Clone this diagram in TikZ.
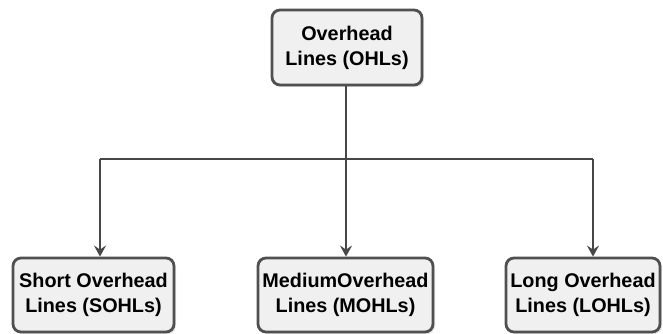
\documentclass[tikz,border=0pt]{standalone}
\usepackage{fontspec}
\setmainfont{Liberation Sans}
\usetikzlibrary{arrows.meta,shadows}
\definecolor{boxfill}{HTML}{F0F0F0}
\definecolor{boxline}{HTML}{505050}
\definecolor{linecol}{HTML}{474747}
\tikzset{
  catbox/.style={draw=boxline, line width=2.8pt, fill=boxfill, rounded corners=8pt,
    align=center, inner sep=0pt, font=\fontsize{19.8}{24.8}\selectfont\bfseries,
    drop shadow={opacity=0.2, shadow xshift=2pt, shadow yshift=-2pt}},
  conn/.style={draw=linecol, line width=2.8pt},
  arr/.style={conn, -{Stealth[length=11pt, width=12pt, inset=4pt]}}
}
\begin{document}
\begin{tikzpicture}[x=1pt, y=-1pt]
\useasboundingbox (0,0) rectangle (663,334);
\node[catbox, minimum width=150pt, minimum height=75pt] (top) at (347,47.5) {Overhead\\Lines (OHLs)};
\node[catbox, minimum width=161pt, minimum height=74pt] (short) at (93.5,295) {Short Overhead\\Lines (SOHLs)};
\node[catbox, minimum width=175pt, minimum height=74pt] (medium) at (345.5,295) {MediumOverhead\\Lines (MOHLs)};
\node[catbox, minimum width=154pt, minimum height=74pt] (long) at (583,295) {Long Overhead\\Lines (LOHLs)};
\coordinate (hub) at (346,159);
\coordinate (hl) at (100,159);
\coordinate (hr) at (593,159);
\draw[conn] (top.south -| hub) -- (hub);
\draw[conn] (hl) -- (hr);
\draw[arr] (hl) -- (hl |- short.north);
\draw[arr] (hub) -- (hub |- medium.north);
\draw[arr] (hr) -- (hr |- long.north);
\end{tikzpicture}
\end{document}
